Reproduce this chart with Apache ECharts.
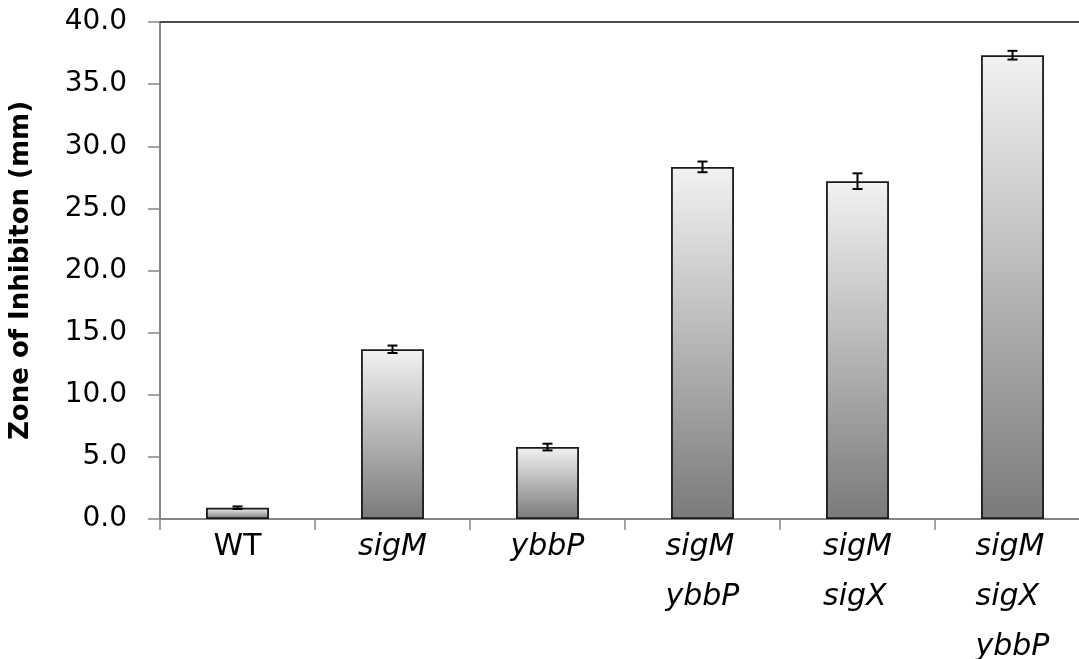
<!DOCTYPE html>
<html>
<head>
<meta charset="utf-8">
<script src="https://cdn.jsdelivr.net/npm/echarts@6/dist/echarts.min.js"></script>
<style>
html,body{margin:0;padding:0;background:#fff;}
#chart{width:1079px;height:659px;}
</style>
</head>
<body>
<div id="chart"></div>
<script>
var categories = ['WT', 'sigM', 'ybbP', 'sigM\nybbP', 'sigM\nsigX', 'sigM\nsigX\nybbP'];
var italicLabels = [false, true, true, true, true, true];
var zoneValues = [0.91, 13.66, 5.79, 28.34, 27.19, 37.33];
var zoneErrors = [0.10, 0.30, 0.27, 0.43, 0.63, 0.35];
var yTicks = { min: 0, max: 40, interval: 5 };
var yTitle = 'Zone of Inhibiton (mm)';

var FONT = 'DejaVu Sans';
var chart = echarts.init(document.getElementById('chart'), null, { renderer: 'canvas' });

var errData = zoneValues.map(function (v, i) { return [i, v - zoneErrors[i], v + zoneErrors[i]]; });

chart.setOption({
  animation: false,
  backgroundColor: '#ffffff',
  grid: { left: 160, top: 22, width: 930, height: 497, containLabel: false, outerBoundsMode: 'none' },
  xAxis: [{
    type: 'category',
    data: categories,
    position: 'bottom',
    axisLine: { lineStyle: { color: '#868686', width: 2 } },
    axisTick: { show: true, length: 11, lineStyle: { color: '#868686', width: 1.5 } },
    axisLabel: {
      interval: 0,
      margin: 3,
      color: '#000',
      fontFamily: FONT,
      fontSize: 30,
      lineHeight: 50,
      formatter: function (val, idx) {
        var lines = val.split('\n');
        var key = italicLabels[idx] ? 'i' : 'n';
        return lines.map(function (l) { return '{' + key + '|' + l + '}'; }).join('\n');
      },
      rich: {
        n: { fontFamily: FONT, fontSize: 30, lineHeight: 50, color: '#000', align: 'left' },
        i: { fontFamily: FONT, fontSize: 30, lineHeight: 50, color: '#000', fontStyle: 'italic', align: 'left' }
      }
    }
  }, {
    type: 'category',
    data: categories,
    position: 'top',
    axisLine: { lineStyle: { color: '#4d4d4d', width: 2 } },
    axisTick: { show: false },
    axisLabel: { show: false }
  }],
  yAxis: {
    type: 'value',
    min: yTicks.min,
    max: yTicks.max,
    interval: yTicks.interval,
    name: yTitle,
    nameLocation: 'middle',
    nameGap: 126,
    nameTextStyle: { fontFamily: FONT, fontSize: 26, fontWeight: 'bold', color: '#000' },
    axisLine: { show: true, lineStyle: { color: '#868686', width: 2 } },
    axisTick: { show: true, length: 12, lineStyle: { color: '#868686', width: 1.5 } },
    splitLine: { show: false },
    axisLabel: {
      margin: 33,
      color: '#000',
      fontFamily: FONT,
      fontSize: 28,
      formatter: function (v) { return v.toFixed(1); }
    }
  },
  series: [{
    type: 'bar',
    data: zoneValues,
    barWidth: '40.6%',
    itemStyle: {
      borderColor: '#1a1a1a',
      borderWidth: 1.8,
      color: new echarts.graphic.LinearGradient(0, 0, 0, 1, [
        { offset: 0, color: '#f2f2f2' },
        { offset: 1, color: '#7a7a7a' }
      ])
    },
    z: 2
  }, {
    type: 'custom',
    data: errData,
    z: 5,
    renderItem: function (params, api) {
      var x = api.value(0);
      var lo = api.coord([x, api.value(1)]);
      var hi = api.coord([x, api.value(2)]);
      var hw = 5;
      var style = { stroke: '#000', lineWidth: 2, fill: null };
      return {
        type: 'group',
        children: [
          { type: 'line', shape: { x1: lo[0], y1: lo[1], x2: hi[0], y2: hi[1] }, style: style },
          { type: 'line', shape: { x1: lo[0] - hw, y1: lo[1], x2: lo[0] + hw, y2: lo[1] }, style: style },
          { type: 'line', shape: { x1: hi[0] - hw, y1: hi[1], x2: hi[0] + hw, y2: hi[1] }, style: style }
        ]
      };
    }
  }]
});
</script>
</body>
</html>
